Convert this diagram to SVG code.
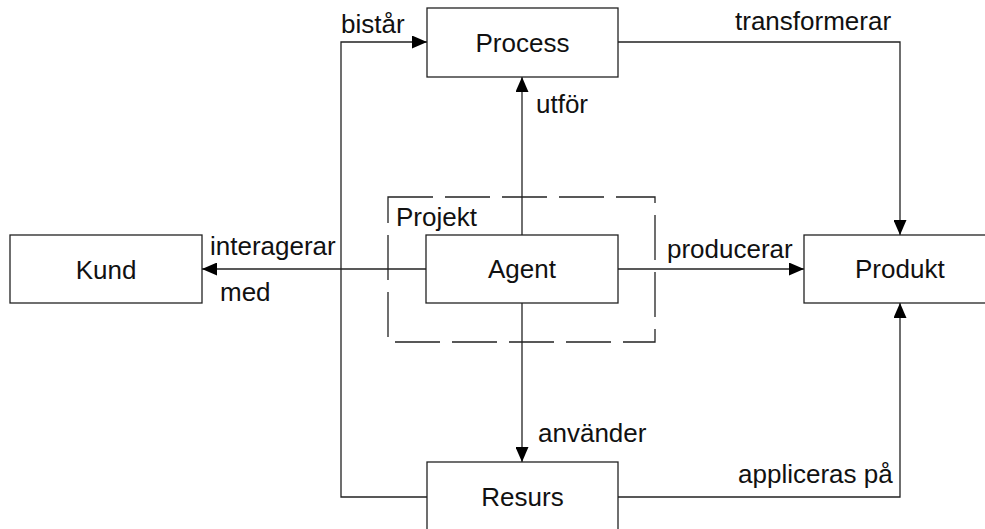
<svg xmlns="http://www.w3.org/2000/svg" width="985" height="529" viewBox="0 0 985 529">
  <style>
    .box { fill: #ffffff; stroke: #222222; stroke-width: 1.3; }
    .frame { fill: none; stroke: #222222; stroke-width: 1.3; stroke-dasharray: 45 12; }
    .edge { fill: none; stroke: #222222; stroke-width: 1.3; marker-end: url(#head); }
    text { font-family: "Liberation Sans", Arial, sans-serif; font-size: 26px; fill: #111111; }
    .mid { text-anchor: middle; }
  </style>
  <defs>
    <marker id="head" markerUnits="userSpaceOnUse" markerWidth="15" markerHeight="13" refX="15" refY="6.5" orient="auto">
      <path d="M0,0 L15,6.5 L0,13 z" fill="#000000"/>
    </marker>
  </defs>

  <rect width="985" height="529" fill="#ffffff"/>

  <!-- Projekt boundary -->
  <g id="projekt">
    <rect class="frame" x="388" y="197" width="267" height="145"/>
    <text x="396" y="226">Projekt</text>
  </g>

  <!-- connectors -->
  <g id="connectors">
    <path class="edge" d="M618,42 H900 V235"/>
    <path class="edge" d="M618,497 H900 V303"/>
    <path class="edge" d="M427,497 H341 V42 H427"/>
    <path class="edge" d="M522,235 V77"/>
    <path class="edge" d="M522,303 V462"/>
    <path class="edge" d="M426,269 H202"/>
    <path class="edge" d="M618,269 H804"/>
    <text x="341" y="33">bistår</text>
    <text x="735" y="30">transformerar</text>
    <text x="536" y="113">utför</text>
    <text x="210" y="255">interagerar</text>
    <text x="220" y="301">med</text>
    <text x="667" y="258">producerar</text>
    <text x="538" y="442">använder</text>
    <text x="738" y="483">appliceras på</text>
  </g>

  <g id="process">
    <rect class="box" x="427" y="8" width="191" height="69"/>
    <text class="mid" x="522.5" y="52">Process</text>
  </g>

  <g id="agent">
    <rect class="box" x="426" y="235" width="192" height="68"/>
    <text class="mid" x="522" y="278">Agent</text>
  </g>

  <g id="kund">
    <rect class="box" x="10" y="235" width="192" height="68"/>
    <text class="mid" x="106" y="279">Kund</text>
  </g>

  <g id="produkt">
    <rect class="box" x="804" y="235" width="200" height="68"/>
    <text x="855" y="278">Produkt</text>
  </g>

  <g id="resurs">
    <rect class="box" x="427" y="462" width="191" height="80"/>
    <text class="mid" x="522.5" y="506">Resurs</text>
  </g>
</svg>
